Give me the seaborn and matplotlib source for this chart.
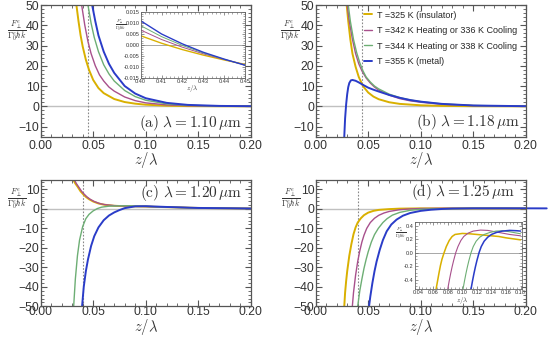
import numpy as np
import pandas as pd
import matplotlib
matplotlib.use("Agg")
import matplotlib.pyplot as plt
import seaborn as sns
from matplotlib.ticker import MultipleLocator, FormatStrFormatter

# ---- series names / colours ----
labels = ["T =325 K (insulator)", "T =342 K Heating or 336 K Cooling",
          "T =344 K Heating or 338 K Cooling", "T =355 K (metal)"]
colors = ["#D9B000", "#A8508C", "#6DAE74", "#2A3CC8"]
widths = [1.4, 1.0, 1.0, 1.4]

# ---- panel (a), lambda = 1.10 um ----
a_z_yel = [0.034, 0.036, 0.038, 0.040, 0.043, 0.046, 0.050, 0.055, 0.060, 0.070, 0.080, 0.090, 0.10, 0.12, 0.14, 0.17, 0.20]
a_f_yel = [50, 42, 35, 29.5, 23, 18, 13, 9, 6.5, 3.6, 2.1, 1.3, 0.8, 0.3, 0.1, 0.03, 0.0]
a_z_mag = [0.039, 0.042, 0.045, 0.048, 0.052, 0.056, 0.060, 0.065, 0.070, 0.080, 0.090, 0.10, 0.12, 0.14, 0.17, 0.20]
a_f_mag = [50, 40, 32, 26, 20, 15.5, 12.5, 9.5, 7.5, 4.6, 2.8, 1.7, 0.7, 0.3, 0.08, 0.02]
a_z_grn = [0.045, 0.048, 0.051, 0.055, 0.060, 0.065, 0.070, 0.080, 0.090, 0.10, 0.12, 0.14, 0.17, 0.20]
a_f_grn = [50, 41, 34, 27, 20.5, 16, 12.5, 7.8, 4.8, 3.0, 1.2, 0.5, 0.12, 0.03]
a_z_blu = [0.049, 0.052, 0.055, 0.060, 0.065, 0.070, 0.080, 0.090, 0.10, 0.12, 0.14, 0.17, 0.20]
a_f_blu = [50, 42, 35, 27, 21, 16.5, 10, 6.3, 4.0, 1.7, 0.7, 0.2, 0.05]

# inset of (a)
ia_z = [0.40, 0.41, 0.42, 0.43, 0.44, 0.45]
ia_f_yel = [0.0042, 0.0008, -0.0021, -0.0046, -0.0068, -0.0088]
ia_f_mag = [0.0068, 0.0025, -0.0010, -0.0040, -0.0066, -0.0090]
ia_f_grn = [0.0088, 0.0038, -0.0002, -0.0036, -0.0065, -0.0091]
ia_f_blu = [0.0110, 0.0050, 0.0005, -0.0033, -0.0064, -0.0092]

# ---- panel (b), lambda = 1.18 um ----
b_z_yel = [0.0295, 0.031, 0.033, 0.035, 0.038, 0.041, 0.045, 0.050, 0.055, 0.060, 0.070, 0.080, 0.10, 0.12, 0.15, 0.20]
b_f_yel = [50, 42, 33, 26, 19.5, 14.5, 10, 6.8, 4.8, 3.5, 2.0, 1.2, 0.5, 0.2, 0.05, 0.0]
b_z_mag = [0.030, 0.032, 0.035, 0.038, 0.041, 0.044, 0.048, 0.052, 0.056, 0.060, 0.070, 0.080, 0.090, 0.10, 0.12, 0.15, 0.20]
b_f_mag = [50, 42, 33, 26, 21, 17.5, 14, 11.5, 9.5, 8, 5.5, 3.8, 2.7, 2.0, 1.0, 0.35, 0.05]
b_z_grn = [0.031, 0.033, 0.036, 0.039, 0.042, 0.045, 0.048, 0.052, 0.056, 0.060, 0.070, 0.080, 0.090, 0.10, 0.12, 0.15, 0.20]
b_f_grn = [50, 42, 33, 26.5, 21.5, 17.5, 14.5, 12, 10, 8.6, 6, 4.3, 3.1, 2.3, 1.2, 0.4, 0.05]
b_z_blu = [0.0272, 0.028, 0.029, 0.030, 0.031, 0.032, 0.0335, 0.035, 0.038, 0.041, 0.045, 0.050, 0.055, 0.060, 0.070, 0.080, 0.090, 0.10, 0.12, 0.15, 0.20]
b_f_blu = [-15, -6, 1, 6, 9.5, 11.5, 12.8, 13, 12.6, 11.8, 10.6, 9.2, 8.2, 7.3, 5.6, 4.2, 3.1, 2.3, 1.2, 0.4, 0.05]

# ---- panel (c), lambda = 1.20 um ----
c_z_yel = [0.031, 0.033, 0.035, 0.038, 0.040, 0.043, 0.046, 0.050, 0.055, 0.060, 0.070, 0.080, 0.090, 0.10, 0.12, 0.15, 0.20]
c_f_yel = [15, 13, 11.5, 9, 7.8, 6.2, 5, 3.8, 2.8, 2.2, 1.6, 1.4, 1.3, 1.2, 0.9, 0.5, 0.2]
c_z_mag = [0.032, 0.034, 0.036, 0.039, 0.041, 0.044, 0.047, 0.051, 0.056, 0.061, 0.070, 0.080, 0.090, 0.10, 0.12, 0.15, 0.20]
c_f_mag = [15, 13, 11.4, 9, 7.8, 6.2, 5, 3.8, 2.8, 2.2, 1.7, 1.5, 1.35, 1.25, 0.95, 0.5, 0.2]
c_z_grn = [0.0314, 0.033, 0.035, 0.037, 0.040, 0.043, 0.046, 0.050, 0.054, 0.058, 0.065, 0.075, 0.085, 0.10, 0.12, 0.15, 0.20]
c_f_grn = [-50, -36, -24, -16, -9, -5, -2.8, -1, 0.2, 0.9, 1.4, 1.6, 1.6, 1.3, 0.9, 0.5, 0.2]
c_z_blu = [0.0394, 0.041, 0.043, 0.045, 0.048, 0.051, 0.055, 0.060, 0.065, 0.070, 0.075, 0.080, 0.090, 0.10, 0.12, 0.15, 0.20]
c_f_blu = [-50, -40, -32, -26, -19, -14, -9.5, -5.8, -3.4, -1.8, -0.6, 0.4, 1.3, 1.4, 1.0, 0.5, 0.2]

# ---- panel (d), lambda = 1.25 um ----
d_z_yel = [0.0272, 0.028, 0.029, 0.030, 0.032, 0.034, 0.036, 0.038, 0.040, 0.043, 0.046, 0.050, 0.055, 0.060, 0.070, 0.080, 0.10, 0.15, 0.20]
d_f_yel = [-50, -43, -37, -32, -24, -18, -13, -9.5, -7, -4.8, -3.2, -1.9, -1.0, -0.5, -0.1, 0.15, 0.28, 0.24, 0.19]
d_z_mag = [0.0349, 0.036, 0.038, 0.040, 0.042, 0.044, 0.046, 0.0486, 0.052, 0.056, 0.060, 0.065, 0.070, 0.080, 0.090, 0.10, 0.12, 0.15, 0.20]
d_f_mag = [-50, -43, -34, -27, -21.5, -17, -13.5, -10, -7, -4.8, -3.3, -2.1, -1.3, -0.4, 0.0, 0.2, 0.32, 0.30, 0.23]
d_z_grn = [0.040, 0.042, 0.044, 0.046, 0.048, 0.050, 0.053, 0.056, 0.0596, 0.064, 0.068, 0.073, 0.080, 0.090, 0.10, 0.11, 0.12, 0.15, 0.20]
d_f_grn = [-50, -42, -36, -30.5, -26, -22, -17, -13.2, -10, -7, -5, -3.2, -1.8, -0.7, -0.2, 0.0, 0.1, 0.32, 0.25]
d_z_blu = [0.0508, 0.052, 0.054, 0.056, 0.058, 0.061, 0.064, 0.0676, 0.072, 0.077, 0.083, 0.090, 0.10, 0.11, 0.121, 0.13, 0.15, 0.18, 0.20, 0.22]
d_f_blu = [-50, -45, -38, -32, -27, -21, -16, -11.5, -8, -5.5, -3.5, -2.1, -1.0, -0.4, 0.0, 0.17, 0.3, 0.32, 0.30, 0.28]

# inset of (d)
id_z_yel = [0.064, 0.066, 0.068, 0.070, 0.072, 0.075, 0.078, 0.082, 0.086, 0.09, 0.10, 0.11, 0.12, 0.13, 0.14, 0.15, 0.16, 0.17, 0.18]
id_f_yel = [-0.54, -0.42, -0.30, -0.19, -0.10, 0.0, 0.09, 0.18, 0.24, 0.27, 0.285, 0.28, 0.27, 0.26, 0.25, 0.24, 0.22, 0.205, 0.19]
id_z_mag = [0.080, 0.082, 0.084, 0.086, 0.088, 0.091, 0.094, 0.098, 0.102, 0.108, 0.115, 0.125, 0.135, 0.145, 0.155, 0.165, 0.18]
id_f_mag = [-0.54, -0.42, -0.31, -0.21, -0.12, 0.0, 0.09, 0.18, 0.24, 0.29, 0.32, 0.335, 0.33, 0.31, 0.29, 0.27, 0.25]
id_z_grn = [0.101, 0.103, 0.105, 0.107, 0.109, 0.112, 0.115, 0.119, 0.124, 0.130, 0.138, 0.146, 0.155, 0.165, 0.18]
id_f_grn = [-0.54, -0.42, -0.31, -0.21, -0.12, 0.0, 0.09, 0.17, 0.23, 0.27, 0.30, 0.32, 0.325, 0.31, 0.28]
id_z_blu = [0.112, 0.114, 0.116, 0.118, 0.120, 0.123, 0.126, 0.130, 0.135, 0.140, 0.147, 0.155, 0.165, 0.175, 0.18]
id_f_blu = [-0.54, -0.42, -0.31, -0.21, -0.12, 0.0, 0.09, 0.17, 0.23, 0.27, 0.30, 0.32, 0.33, 0.325, 0.32]

panel_text = [r"$\mathrm{(a)}\ \lambda = 1.10\,\mu\mathrm{m}$", r"$\mathrm{(b)}\ \lambda = 1.18\,\mu\mathrm{m}$",
              r"$\mathrm{(c)}\ \lambda = 1.20\,\mu\mathrm{m}$", r"$\mathrm{(d)}\ \lambda = 1.25\,\mu\mathrm{m}$"]
dotted_z = [0.045, 0.044, 0.040, 0.040]

sns.set_theme(style="ticks")
plt.rcParams["font.family"] = ["Liberation Sans", "DejaVu Sans"]
plt.rcParams["mathtext.fontset"] = "cm"

W, H = 550, 337
fig = plt.figure(figsize=(5.5, 3.37), dpi=100)


def box(x0, y0, x1, y1):
    # pixel box -> figure fraction rect
    return [x0 / W, 1 - y1 / H, (x1 - x0) / W, (y1 - y0) / H]


def draw(ax, zs, fs, lw_scale=1.0, with_labels=False, noclip_last=False):
    for i in range(4):
        df = pd.DataFrame({"z": zs[i], "F": fs[i]})
        kw = dict(label=labels[i]) if with_labels else {}
        if noclip_last and i == 3:
            kw["clip_on"] = False
        sns.lineplot(data=df, x="z", y="F", ax=ax, color=colors[i], lw=widths[i] * lw_scale,
                     errorbar=None, **kw)
    if ax.get_legend() is not None:
        ax.get_legend().remove()
    ax.set_xlabel("")
    ax.set_ylabel("")


def style(ax, ylim, yticks, bottom_row):
    ax.set_xlim(0, 0.2)
    ax.set_ylim(*ylim)
    ax.set_xticks([0.0, 0.05, 0.10, 0.15, 0.20])
    ax.set_yticks(yticks)
    ax.xaxis.set_major_formatter(FormatStrFormatter("%.2f"))
    ax.xaxis.set_minor_locator(MultipleLocator(0.01))
    ax.yaxis.set_minor_locator(MultipleLocator(2))
    ax.tick_params(which="both", direction="in", top=True, right=True, color="#555555",
                   labelsize=8.8, labelcolor="#333333")
    ax.tick_params(which="major", length=4, width=0.8)
    ax.tick_params(which="minor", length=2, width=0.6)
    ax.tick_params(axis="y", pad=1)
    ax.tick_params(axis="x", pad=0 if bottom_row else 2.5)
    for s in ax.spines.values():
        s.set_color("#555555")
        s.set_linewidth(0.9)
    ax.axhline(0, color="#c0c0c0", lw=1, zorder=0)


def style_inset(ax, xlim, ylim, xticks, yticks, xfmt, yfmt):
    ax.set_xlim(*xlim)
    ax.set_ylim(*ylim)
    ax.set_xticks(xticks)
    ax.set_yticks(yticks)
    ax.xaxis.set_major_formatter(FormatStrFormatter(xfmt))
    ax.yaxis.set_major_formatter(FormatStrFormatter(yfmt))
    ax.tick_params(which="both", direction="in", top=True, right=True, color="#666666",
                   labelsize=4, labelcolor="#333333", pad=1)
    ax.tick_params(which="major", length=2.5, width=0.5)
    ax.tick_params(which="minor", length=1.2, width=0.4)
    for s in ax.spines.values():
        s.set_color("#666666")
        s.set_linewidth(0.6)
    ax.axhline(0, color="#999999", lw=0.6, zorder=0)
    ax.set_facecolor("white")


frac = r"$\frac{F^e_\perp}{\Gamma^e_0\hbar k}$"

ax_a = fig.add_axes(box(40.7, 5, 250.7, 136.7))
ax_b = fig.add_axes(box(315.7, 5, 525.7, 136.7))
ax_c = fig.add_axes(box(40.7, 179.7, 250.7, 306.3))
ax_d = fig.add_axes(box(315.7, 179.7, 525.7, 306.3))

draw(ax_a, [a_z_yel, a_z_mag, a_z_grn, a_z_blu], [a_f_yel, a_f_mag, a_f_grn, a_f_blu])
draw(ax_b, [b_z_yel, b_z_mag, b_z_grn, b_z_blu], [b_f_yel, b_f_mag, b_f_grn, b_f_blu], with_labels=True)
draw(ax_c, [c_z_yel, c_z_mag, c_z_grn, c_z_blu], [c_f_yel, c_f_mag, c_f_grn, c_f_blu])
draw(ax_d, [d_z_yel, d_z_mag, d_z_grn, d_z_blu], [d_f_yel, d_f_mag, d_f_grn, d_f_blu], noclip_last=True)

style(ax_a, (-15, 50), [-10, 0, 10, 20, 30, 40, 50], False)
style(ax_b, (-15, 50), [-10, 0, 10, 20, 30, 40, 50], False)
style(ax_c, (-50, 15), [-50, -40, -30, -20, -10, 0, 10], True)
style(ax_d, (-50, 15), [-50, -40, -30, -20, -10, 0, 10], True)

text_pos = [(0.959, 0.104), (0.973, 0.114), (0.959, 0.895), (0.949, 0.903)]
for ax, t, z0, (tx, ty) in zip([ax_a, ax_b, ax_c, ax_d], panel_text, dotted_z, text_pos):
    ax.axvline(z0, color="#888888", lw=0.8, ls=(0, (1.5, 1.5)), zorder=0)
    ax.text(tx, ty, t, transform=ax.transAxes, ha="right", va="center", fontsize=11, color="#333333")

# legend in (b)
ax_b.legend(loc="upper left", bbox_to_anchor=(0.215, 0.985), frameon=False, fontsize=6.5,
            handlelength=0.8, handletextpad=0.6, labelspacing=0.72, borderaxespad=0)

# axis labels
for (lx, ly) in [(17, 31), (290, 31), (17, 199), (291, 199)]:
    fig.text(lx / W, 1 - ly / H, frac, ha="center", va="center", fontsize=8.5, color="#333333")
for (lx, ly) in [(146, 160), (421, 160), (146, 327), (421, 327)]:
    fig.text(lx / W, 1 - ly / H, r"$z/\lambda$", ha="center", va="center", fontsize=10.5, color="#333333")

# inset (a)
in_a = fig.add_axes(box(140.7, 12, 245, 78))
draw(in_a, [ia_z] * 4, [ia_f_yel, ia_f_mag, ia_f_grn, ia_f_blu], lw_scale=0.7)
style_inset(in_a, (0.40, 0.45), (-0.015, 0.015), [0.40, 0.41, 0.42, 0.43, 0.44, 0.45],
            [-0.015, -0.010, -0.005, 0.0, 0.005, 0.010, 0.015], "%.2f", "%.3f")
in_a.xaxis.set_minor_locator(MultipleLocator(0.002))
in_a.yaxis.set_minor_locator(MultipleLocator(0.001))
fig.text(121 / W, 1 - 25 / H, frac, ha="center", va="center", fontsize=4.5, color="#333333")
fig.text(192 / W, 1 - 88 / H, r"$z/\lambda$", ha="center", va="center", fontsize=5, color="#333333")

# inset (d)
in_d = fig.add_axes(box(415, 222, 522, 289))
draw(in_d, [id_z_yel, id_z_mag, id_z_grn, id_z_blu], [id_f_yel, id_f_mag, id_f_grn, id_f_blu], lw_scale=0.8)
style_inset(in_d, (0.035, 0.182), (-0.54, 0.455), [0.04, 0.06, 0.08, 0.10, 0.12, 0.14, 0.16, 0.18],
            [-0.4, -0.2, 0.0, 0.2, 0.4], "%.2f", "%.1f")
in_d.xaxis.set_minor_locator(MultipleLocator(0.005))
in_d.yaxis.set_minor_locator(MultipleLocator(0.05))
fig.text(401 / W, 1 - 233 / H, frac, ha="center", va="center", fontsize=4.5, color="#333333")
fig.text(462 / W, 1 - 301 / H, r"$z/\lambda$", ha="center", va="center", fontsize=5, color="#333333")

fig.savefig("out.png", dpi=100)
